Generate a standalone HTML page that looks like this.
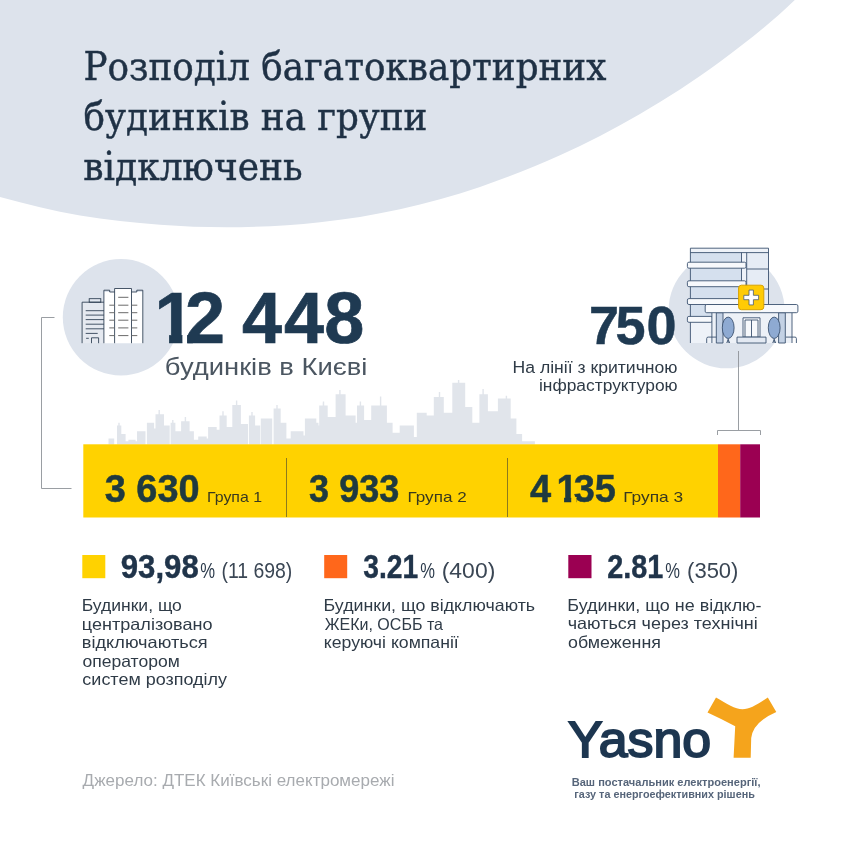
<!DOCTYPE html>
<html lang="uk">
<head>
<meta charset="utf-8">
<title>Розподіл багатоквартирних будинків на групи відключень</title>
<style>
html,body{margin:0;padding:0;background:#fff;}
body{width:843px;height:843px;overflow:hidden;position:relative;}
svg{display:block;position:absolute;left:0;top:0;}
.sans{font-family:"Liberation Sans","DejaVu Sans",sans-serif;}
.slab{font-family:"DejaVu Serif Condensed","DejaVu Serif","Liberation Serif",serif;}
.b{font-weight:bold;}
</style>
</head>
<body>
<svg width="843" height="843" viewBox="0 0 843 843">
<defs>
<clipPath id="c1"><path clip-rule="evenodd" d="M0,0 H843 V843 H0 Z M150,334.300 H169.100 V346 H150 Z M182.400,334.300 H187.200 V346 H182.400 Z"/></clipPath>
<clipPath id="c2"><path clip-rule="evenodd" d="M0,0 H843 V843 H0 Z M550,497 H564.100 V504 H550 Z M571.200,497 H576.700 V504 H571.200 Z"/></clipPath>
</defs>
<!-- background blob -->
<path id="blob" d="M0,-10 L0,196.9 C26.7,204.2 53.3,210.9 80,215.6 C106.7,220.2 133.3,222.9 160,224.8 C186.7,226.8 213.3,227.6 240,227.2 C266.7,226.7 293.3,225.3 320,222.3 C346.7,219.3 373.3,215.1 400,209.2 C426.7,203.3 453.3,195.9 480,186.9 C506.7,177.9 533.3,167.3 560,155.2 C586.7,143.0 613.3,129.4 640,113.9 C666.7,98.3 693.3,81.7 720,61.8 C746.7,42.0 773.3,21.4 800,-5.1 L800,-10 Z" fill="#dde3ec"/>

<!-- title -->
<g class="slab" fill="#1f3145" stroke="#1f3145" stroke-width="0.450">
<text x="83.41" y="79.80" font-size="39.5" textLength="522.93" lengthAdjust="spacingAndGlyphs">Розподіл багатоквартирних</text>
<text x="83.61" y="130.40" font-size="39.5" textLength="343.78" lengthAdjust="spacingAndGlyphs">будинків на групи</text>
<text x="83.20" y="180.30" font-size="39.5" textLength="219.45" lengthAdjust="spacingAndGlyphs">відключень</text>
</g>

<!-- left bracket line -->
<path d="M54.500,317.500 H41.500 V488.500 H71.500" fill="none" stroke="#8e9399" stroke-width="0.900"/>

<!-- left circle + apartment icon -->
<circle cx="121" cy="317.300" r="58.200" fill="#dde3ec"/>
<g id="apt" stroke="#283a4e" stroke-width="0.85" fill="none" stroke-linecap="butt">
<path d="M82.100,343.200 V302.200 H103.900 V343.200 Z" fill="#e5e9f0" stroke="none"/>
<path d="M103.900,343.200 V292 H114.600 V288.500 H131.500 V292 H142.800 V343.200 Z" fill="#ffffff" stroke="none"/>
<rect x="89.200" y="298.700" width="11.600" height="3.500" fill="#e4e9f1"/>
<path d="M82.100,343.200 V302.200 H103.900"/>
<path d="M103.900,343.200 V290.200 H109.700 V292 H114.600 M131.500,292 H136.800 V290.200 H142.800 V343.200"/>
<path d="M114.600,343.200 V288.500 H131.500 V343.200"/>
<path d="M85.700,310.700 H103.900 M85.700,315.100 H103.900 M85.700,319.600 H103.900 M85.700,324.200 H103.900 M85.700,328.800 H103.900 M85.700,333.400 H97.700 M86.100,338.300 H88.800 M91.500,343.200 V337.800 H98.600 V343.200"/>
<g stroke="#6a6a6a" stroke-width="1">
<path d="M118.200,297.300 H128.400 M118.200,305.200 H128.400 M118.200,312.700 H128.400 M118.200,320.200 H128.400 M118.200,327.900 H128.400 M118.200,335.600 H128.400"/>
<path d="M109.300,305.200 H114.600 M109.300,312.700 H114.600 M109.300,320.200 H114.600 M109.300,327.900 H114.600 M109.300,335.600 H114.600"/>
<path d="M131.500,305.200 H137.300 M131.500,312.700 H137.300 M131.500,320.200 H137.300 M131.500,327.900 H137.300 M131.500,335.600 H137.300"/>
</g>
</g>


<!-- skyline -->
<path id="sky" fill="#e1e5eb" d="M108.5,444.5V438.4H114.2V444.5ZM117.0,444.5V425.6H121.3V444.5ZM121.3,444.5V434.1H125.6V444.5ZM125.6,444.5V441.2H128.4V444.5ZM128.4,444.5V439.8H135.6V444.5ZM135.6,444.5V441.2H137.0V444.5ZM137.0,444.5V431.2H145.5V444.5ZM146.9,444.5V422.7H154.1V444.5ZM154.1,444.5V428.4H155.5V444.5ZM155.5,444.5V414.2H164.0V444.5ZM164.0,444.5V425.6H169.7V444.5ZM170.6,444.5V422.7H175.4V444.5ZM175.4,444.5V431.2H181.1V444.5ZM181.1,444.5V421.3H189.6V444.5ZM189.6,444.5V431.2H193.9V444.5ZM193.9,444.5V439.8H198.2V444.5ZM198.2,444.5V436.4H206.7V444.5ZM206.7,444.5V438.4H208.1V444.5ZM208.1,444.5V427.0H216.7V444.5ZM216.7,444.5V429.8H219.5V444.5ZM219.5,444.5V415.6H226.7V444.5ZM226.7,444.5V427.0H232.3V444.5ZM232.3,444.5V405.1H240.9V444.5ZM240.9,444.5V424.1H248.0V444.5ZM248.9,444.5V415.6H255.1V444.5ZM255.1,444.5V425.6H260.2V444.5ZM260.8,444.5V418.4H272.2V444.5ZM273.6,444.5V408.5H280.7V444.5ZM280.7,444.5V422.7H286.4V444.5ZM286.4,444.5V438.4H290.7V444.5ZM290.7,444.5V431.2H303.5V444.5ZM303.5,444.5V435.5H304.9V444.5ZM304.9,444.5V418.4H316.3V444.5ZM316.3,444.5V425.6H319.2V444.5ZM319.2,444.5V405.6H327.7V444.5ZM327.7,444.5V422.7H330.0V444.5ZM310.0,444.5V422.7H318.5V444.5ZM318.5,444.5V427.0H320.0V444.5ZM320.0,444.5V407.0H327.1V444.5ZM327.1,444.5V417.0H335.6V444.5ZM335.6,444.5V394.2H345.6V444.5ZM345.6,444.5V415.6H355.6V444.5ZM355.6,444.5V422.7H357.0V444.5ZM357.0,444.5V405.6H364.1V444.5ZM364.1,444.5V419.9H371.2V444.5ZM371.2,444.5V405.6H386.9V444.5ZM386.9,444.5V422.7H392.6V444.5ZM392.6,444.5V432.7H399.7V444.5ZM399.7,444.5V425.6H413.9V444.5ZM413.9,444.5V436.9H416.8V444.5ZM416.8,444.5V412.7H426.7V444.5ZM426.7,444.5V415.6H433.8V444.5ZM433.8,444.5V397.1H443.8V444.5ZM443.8,444.5V412.7H452.3V444.5ZM452.3,444.5V382.8H465.2V444.5ZM465.2,444.5V407.0H472.3V444.5ZM472.3,444.5V422.7H479.4V444.5ZM479.4,444.5V394.2H487.9V444.5ZM487.9,444.5V411.3H497.9V444.5ZM497.9,444.5V398.5H510.7V444.5ZM510.7,444.5V418.4H516.4V444.5ZM516.4,444.5V434.1H522.1V444.5ZM522.1,444.5V441.2H534.9V444.5ZM118.3,444.5V422.7H119.7V444.5ZM158.5,444.5V409.9H159.9V444.5ZM172.1,444.5V419.9H173.5V444.5ZM184.7,444.5V417.0H186.1V444.5ZM222.3,444.5V411.3H223.7V444.5ZM235.9,444.5V400.5H237.3V444.5ZM251.3,444.5V411.9H252.7V444.5ZM276.3,444.5V405.1H277.7V444.5ZM322.8,444.5V401.4H324.2V444.5ZM322.7,444.5V402.8H324.1V444.5ZM339.2,444.5V390.0H340.6V444.5ZM359.7,444.5V401.4H361.1V444.5ZM379.9,444.5V396.5H381.3V444.5ZM438.8,444.5V392.0H440.2V444.5ZM457.9,444.5V380.0H459.3V444.5ZM482.4,444.5V389.1H483.8V444.5ZM505.7,444.5V395.7H507.1V444.5Z"/>

<!-- bar -->
<rect x="83.300" y="444.300" width="634.700" height="73.200" fill="#ffd200"/>
<rect x="718" y="444.300" width="22.200" height="73.200" fill="#ff671b"/>
<rect x="740.200" y="444.300" width="19.800" height="73.200" fill="#9b0052"/>
<path d="M286.500,458 V517 M507.500,458 V517" stroke="#8c7a1e" stroke-width="1" fill="none"/>

<g class="sans b" fill="#1f3a3f" stroke="#1f3a3f" stroke-width="0.500">
<text x="104.74" y="501.50" font-size="38" textLength="94.87" lengthAdjust="spacingAndGlyphs">3 630</text>
<text x="309.08" y="501.50" font-size="38" textLength="90.29" lengthAdjust="spacingAndGlyphs">3 933</text>
<text clip-path="url(#c2)" x="529.900 551 556.400 573.700 594.700" y="501.500" font-size="38">4 135</text>
</g>
<g class="sans" fill="#38391f">
<text x="207.03" y="501.80" font-size="15" textLength="55.00" lengthAdjust="spacingAndGlyphs">Група 1</text>
<text x="407.53" y="501.80" font-size="15" textLength="59.16" lengthAdjust="spacingAndGlyphs">Група 2</text>
<text x="623.21" y="501.80" font-size="15" textLength="60.02" lengthAdjust="spacingAndGlyphs">Група 3</text>
</g>

<!-- big number -->
<text class="sans b" clip-path="url(#c1)" x="154.500 185 230 241.900 284 324.300" y="342.800" font-size="72" fill="#1f3a52" stroke="#1f3a52" stroke-width="0.700">12 448</text>
<text class="sans" fill="#4b5661" x="164.86" y="375.10" font-size="24.3" textLength="202.51" lengthAdjust="spacingAndGlyphs">будинків в Києві</text>

<!-- 750 -->
<circle cx="726.600" cy="310.300" r="58" fill="#dde3ec"/>
<g id="hosp" stroke="#3c5271" stroke-width="0.9" fill="none" stroke-linejoin="round">
<rect x="690.400" y="248.200" width="78.100" height="94.800" fill="#eef2f8" stroke="none"/>
<rect x="690.400" y="252.600" width="51" height="64" fill="#d5e0ee" stroke="none"/>
<rect x="746.700" y="252.600" width="21.800" height="52" fill="#e6ecf5" stroke="none"/>
<path d="M690.400,343 V248.200 H768.500 V304.500"/>
<path d="M690.400,252.600 H768.500 M741.500,252.600 V298 M746.700,252.600 V286 M746.700,269 H768.500 M746.700,289 H768.500"/>
<rect x="687.400" y="262.200" width="58.600" height="6" rx="1.500" fill="#f7f9fc"/>
<rect x="687.400" y="280.800" width="58.600" height="5.900" rx="1.500" fill="#f7f9fc"/>
<rect x="687.400" y="298.600" width="58.600" height="5.900" rx="1.500" fill="#f7f9fc"/>
<rect x="687.400" y="316.400" width="25" height="5.900" rx="1.500" fill="#f7f9fc"/>
<rect x="711.900" y="312.700" width="80.100" height="30.300" fill="#edf1f7" stroke="none"/>
<path d="M711.900,343 V312.700 M792,312.700 V343"/>
<rect x="716.300" y="312.700" width="6.700" height="30.300" fill="#c3d1e4"/>
<rect x="778.600" y="312.700" width="6.700" height="30.300" fill="#c3d1e4"/>
<rect x="705.200" y="304.500" width="92.700" height="8.200" rx="1.500" fill="#f7f9fc"/>
<path d="M706.700,343 V338.500 Q706.700,337.100 708.200,337.100 H716.300 M786,337.100 H795 Q796.400,337.100 796.400,338.500 V343"/>
<rect x="743" y="317.800" width="17" height="19.300" fill="#f7f9fc"/>
<path d="M745,337.100 V320 H758 V337.100 M751.500,320 V337.100"/>
<rect x="737" y="337.100" width="29" height="5.900" fill="#e3e9f2"/>
<path d="M728.200,338.600 V343 M726.700,343 L728.200,339.500 L729.700,343 M774.200,338.600 V343 M772.700,343 L774.200,339.500 L775.700,343"/>
<ellipse cx="728.200" cy="327.800" rx="5.900" ry="10.700" fill="#8eaad2"/>
<ellipse cx="774.200" cy="327.800" rx="5.900" ry="10.700" fill="#8eaad2"/>
<rect x="738.600" y="285.200" width="25.200" height="24.500" rx="2.800" fill="#ffcb05" stroke="#d9a300" stroke-width="1"/>
<path d="M749,290.100 H753.400 V295.300 H758.600 V299.700 H753.400 V304.900 H749 V299.700 H743.800 V295.300 H749 Z" fill="#ffffff" stroke="#4a5a6e" stroke-width="0.800"/>
</g>

<text class="sans b" x="588.900 615.600 646.500" y="344" font-size="54" fill="#1f3a52" stroke="#1f3a52" stroke-width="0.500">750</text>
<g class="sans" fill="#2f3b47">
<text x="512.59" y="372.50" font-size="16" textLength="164.95" lengthAdjust="spacingAndGlyphs">На лінії з критичною</text>
<text x="538.98" y="390.60" font-size="16" textLength="138.64" lengthAdjust="spacingAndGlyphs">інфраструктурою</text>
</g>
<path d="M738.500,351 V430 M717.500,435 V430.500 H760.500 V435" fill="none" stroke="#8e9399" stroke-width="0.900"/>

<!-- legend -->
<rect x="82.300" y="555" width="23" height="23.200" fill="#ffd200"/>
<rect x="324.200" y="555" width="23" height="23.200" fill="#ff671b"/>
<rect x="568.300" y="555" width="23.200" height="23.200" fill="#9b0052"/>

<g class="sans b" fill="#20344a" stroke="#20344a" stroke-width="0.400">
<text x="120.75" y="578.20" font-size="32.6" textLength="77.96" lengthAdjust="spacingAndGlyphs">93,98</text>
<text x="363.34" y="578.20" font-size="32.6" textLength="54.91" lengthAdjust="spacingAndGlyphs">3.21</text>
<text x="607.13" y="578.20" font-size="32.6" textLength="56.13" lengthAdjust="spacingAndGlyphs">2.81</text>
</g>
<g class="sans" fill="#2b3a4b">
<text x="200.13" y="578.20" font-size="22.5" textLength="14.82" lengthAdjust="spacingAndGlyphs">%</text>
<text x="420.14" y="578.20" font-size="22.5" textLength="14.71" lengthAdjust="spacingAndGlyphs">%</text>
<text x="665.14" y="578.20" font-size="22.5" textLength="14.71" lengthAdjust="spacingAndGlyphs">%</text>
</g>
<g class="sans" fill="#3a4654">
<text x="221.44" y="578.20" font-size="22.7" textLength="70.84" lengthAdjust="spacingAndGlyphs">(11 698)</text>
<text x="441.72" y="578.20" font-size="22.7" textLength="53.56" lengthAdjust="spacingAndGlyphs">(400)</text>
<text x="687.08" y="578.20" font-size="22.7" textLength="51.34" lengthAdjust="spacingAndGlyphs">(350)</text>
</g>

<g class="sans" fill="#2f3b47">
<text x="81.70" y="611.40" font-size="16.5" textLength="100.19" lengthAdjust="spacingAndGlyphs">Будинки, що</text>
<text x="81.84" y="629.80" font-size="16.5" textLength="130.66" lengthAdjust="spacingAndGlyphs">централізовано</text>
<text x="81.83" y="648.20" font-size="16.5" textLength="125.80" lengthAdjust="spacingAndGlyphs">відключаються</text>
<text x="82.40" y="666.60" font-size="16.5" textLength="97.38" lengthAdjust="spacingAndGlyphs">оператором</text>
<text x="82.38" y="685.00" font-size="16.5" textLength="144.64" lengthAdjust="spacingAndGlyphs">систем розподілу</text>

<text x="323.57" y="611.40" font-size="16.5" textLength="211.51" lengthAdjust="spacingAndGlyphs">Будинки, що відключають</text>
<text x="324.68" y="629.60" font-size="16.5" textLength="118.33" lengthAdjust="spacingAndGlyphs">ЖЕКи, ОСББ та</text>
<text x="323.76" y="647.90" font-size="16.5" textLength="135.04" lengthAdjust="spacingAndGlyphs">керуючі компанії</text>

<text x="567.37" y="611.40" font-size="16.5" textLength="194.17" lengthAdjust="spacingAndGlyphs">Будинки, що не відклю-</text>
<text x="567.72" y="629.40" font-size="16.5" textLength="190.01" lengthAdjust="spacingAndGlyphs">чаються через технічні</text>
<text x="568.09" y="647.90" font-size="16.5" textLength="92.87" lengthAdjust="spacingAndGlyphs">обмеження</text>
</g>

<!-- source -->
<text class="sans" fill="#a8abaf" x="82.63" y="786.00" font-size="16.5" textLength="311.84" lengthAdjust="spacingAndGlyphs">Джерело: ДТЕК Київські електромережі</text>

<!-- Yasno logo -->
<text class="sans" fill="#1d3650" stroke="#1d3650" stroke-width="1.900" x="567.94" y="756.50" font-size="50" textLength="143.19" lengthAdjust="spacingAndGlyphs">Yasno</text>
<path fill="#f5a41c" d="M716,697.500 L707.500,712.400 Q722,719 735.200,726.300 L733.600,757.800 H750.700 L751.200,738 Q753,722 776.300,711.900 L767.800,697.500 C757.500,704 750,709.200 742.500,709.200 C735,709.200 727,704 716,697.500 Z"/>
<g class="sans b" fill="#56657a">
<text x="571.73" y="785.80" font-size="11" textLength="188.84" lengthAdjust="spacingAndGlyphs">Ваш постачальник електроенергії,</text>
<text x="574.34" y="797.60" font-size="11" textLength="180.49" lengthAdjust="spacingAndGlyphs">газу та енергоефективних рішень</text>
</g>
</svg>
</body>
</html>
